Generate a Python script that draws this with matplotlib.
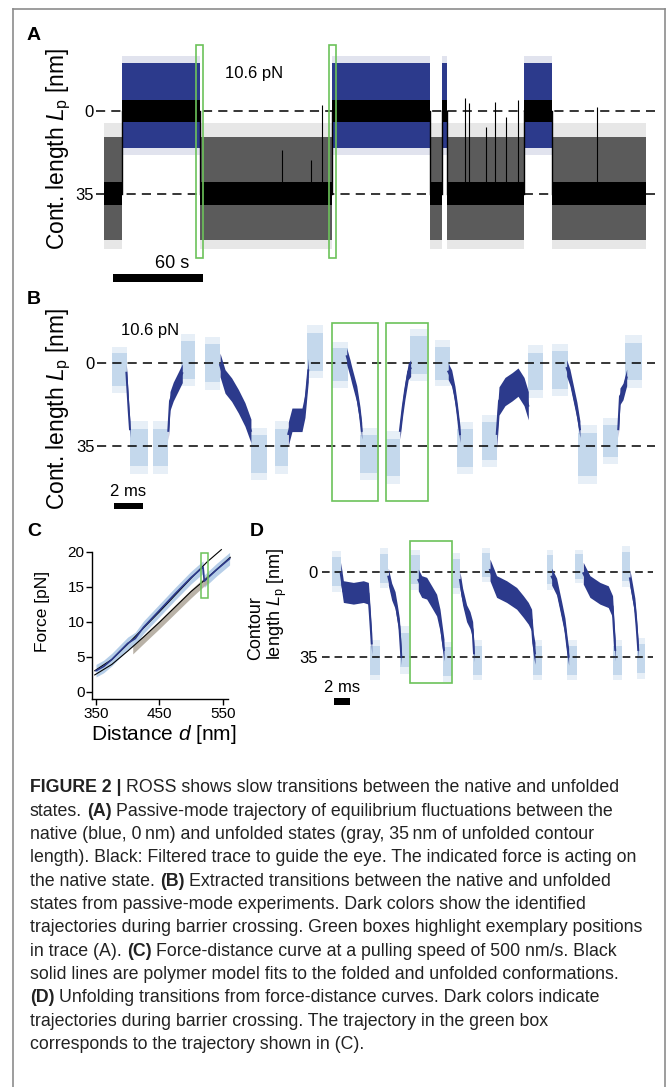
import matplotlib
matplotlib.use('Agg')
import matplotlib.pyplot as plt
from matplotlib.patches import Rectangle
from matplotlib.lines import Line2D
import numpy as np

W, H = 668, 1087

plt.rcParams['font.family'] = ['Liberation Sans', 'DejaVu Sans']
plt.rcParams['mathtext.fontset'] = 'custom'
plt.rcParams['mathtext.rm'] = 'Liberation Sans'
plt.rcParams['mathtext.it'] = 'Liberation Sans:italic'

# ---------------- data ----------------
# (A) passive-mode trace: state intervals [s] and envelopes [nm]
a_start = [0.0, 11.5, 63.7, 152.3, 218.0, 226.3, 229.4, 280.9, 299.5]
a_end = [11.5, 63.7, 152.3, 218.0, 226.3, 229.4, 280.9, 299.5, 362.9]
a_state = ['U', 'N', 'U', 'N', 'U', 'N', 'U', 'N', 'U']
native_cloud = (-19.8, 15.7)
native_sparse = (-23.0, 18.5)
native_filtered = (-4.6, 4.6)
unfolded_cloud = (10.9, 54.1)
unfolded_sparse = (5.0, 58.0)
unfolded_filtered = (30.0, 39.5)
a_spike_t = [118.6, 138.6, 145.8, 241.5, 244.3, 255.7, 261.5, 268.6, 277.2, 330.1]
a_spike_top = [16.4, 20.6, -2.4, -5.2, -3.1, 6.7, -3.8, 2.5, -4.5, -1.7]
a_boxes_t = [(61.4, 66.0), (150.6, 154.9)]

# (B) extracted transitions [ms, nm]; light parts: (t0, t1, centre, half width)
b_pre = [(0.0, 1.04, 2.8, 7), (2.90, 3.95, 35.7, 8), (6.52, 7.57, 0.0, 8),
         (11.41, 12.34, 35.7, 8), (15.38, 16.54, 0.7, 7), (19.17, 20.15, 40.0, 8),
         (22.60, 23.65, 0.0, 7), (25.87, 26.92, 33.0, 8), (30.76, 31.92, 2.8, 8),
         (34.37, 35.42, 33.0, 7)]
b_post = [(1.27, 2.55, 35.7, 8), (4.84, 5.82, -1.4, 8), (9.73, 10.85, 38.5, 8),
          (13.63, 14.79, -4.9, 8), (17.36, 18.52, 38.5, 8), (20.85, 22.02, -3.5, 8),
          (24.14, 25.28, 36.0, 8), (29.13, 30.17, 3.5, 8), (32.62, 33.91, 38.8, 9),
          (35.89, 37.06, -0.7, 8)]
b_dark_t = [[1.02, 1.10, 1.18, 1.27],
            [3.95, 4.07, 4.30, 4.65, 4.93],
            [7.57, 7.92, 8.38, 8.85, 9.31, 9.73],
            [12.34, 12.60, 13.30, 13.51, 13.74],
            [16.43, 16.66, 16.78, 17.13, 17.36, 17.48],
            [20.15, 20.34, 20.50, 20.73, 20.90],
            [23.53, 23.77, 24.00, 24.16, 24.35],
            [26.92, 27.08, 27.50, 27.99, 28.41, 28.83, 29.13],
            [31.81, 32.04, 32.32, 32.53, 32.74],
            [35.42, 35.54, 35.75, 36.01]]
b_dark_nm = [[4, 12, 20, 28],
             [28.7, 16, 12, 7.7, 4.2],
             [0.7, 7.7, 11.2, 16.1, 21.7, 28.7],
             [30, 24, 24, 18, 3],
             [-3, 2, 5, 13, 22, 28.7],
             [28.7, 18.9, 11.9, 3.5, 2.1],
             [3.5, 6.3, 13.3, 20.3, 30.1],
             [30, 16, 12, 10, 8, 12, 18],
             [2, 6, 14, 20, 28],
             [28, 14, 12, 6]]
b_dark_half = [3.5, 4, 5, 5, 3.5, 3.5, 3.5, 6, 3.5, 3.5]
b_boxes_t = [(15.39, 18.62), (19.15, 22.10)]

# (C) force-distance curve [nm, pN]
c_meas_d = [350, 362, 375, 400, 412, 425, 450, 475, 500, 519, 521, 540, 561]
c_meas_f = [3.0, 3.6, 4.6, 6.9, 7.6, 9.2, 11.6, 14.0, 16.3, 17.8, 15.8, 17.4, 19.0]
c_gray_d = [408, 430, 450, 475, 500, 528]
c_gray_f = [6.1, 8.0, 9.7, 11.9, 14.1, 16.4]
c_fold_d = [348, 375, 400, 425, 450, 475, 500, 525, 548]
c_fold_f = [3.0, 4.6, 6.8, 9.1, 11.4, 13.8, 16.2, 18.5, 20.3]
c_unf_d = [348, 375, 400, 425, 450, 475, 500, 521, 540, 562]
c_unf_f = [2.4, 3.9, 5.8, 7.8, 9.9, 12.1, 14.3, 15.9, 17.4, 19.2]

# (D) unfolding transitions from force-distance curves [ms, nm]
d_pre = [(0.0, 1.15, -0.3, 6), (6.17, 7.23, -1.7, 6), (10.09, 11.28, -1.0, 6),
         (15.53, 16.38, 0.4, 6), (19.15, 20.21, -3.0, 5), (27.45, 28.30, -1.0, 6),
         (31.06, 32.13, -2.4, 5), (37.02, 38.09, -2.4, 6)]
d_post = [(4.89, 6.17, 36.4, 6), (8.72, 9.91, 32.2, 7), (14.17, 15.32, 37.1, 6),
          (18.09, 19.15, 36.4, 6), (25.74, 26.81, 36.4, 6), (30.0, 31.28, 36.4, 6),
          (35.96, 37.02, 36.4, 6), (38.94, 40.0, 35.7, 6)]
d_dark_t = [[1.15, 1.49, 2.77, 4.04, 4.68, 4.89, 5.11],
            [7.23, 7.66, 8.09, 8.38, 8.64, 8.89],
            [11.06, 11.49, 12.13, 12.77, 13.40, 13.83, 14.17, 14.34],
            [16.38, 16.72, 17.23, 17.66, 18.00, 18.17],
            [20.21, 21.06, 22.34, 23.62, 24.47, 25.11, 25.53, 25.74, 25.96],
            [28.09, 28.72, 29.36, 29.79, 30.09, 30.26],
            [32.13, 32.98, 34.26, 35.32, 35.87, 36.04, 36.21],
            [38.09, 38.43, 38.72, 38.94, 39.15]]
d_dark_nm = [[0.4, 8.0, 8.7, 8.0, 8.7, 18.4, 29.5],
             [1.8, 8.0, 11.5, 17.0, 22.5, 35.0],
             [3.2, 5.9, 6.6, 10.1, 13.6, 19.8, 28.1, 32.2],
             [3.2, 10.1, 17.0, 19.8, 23.9, 33.6],
             [-1.0, 5.9, 8.0, 10.8, 14.2, 17.0, 19.8, 29.5, 33.6],
             [1.8, 5.9, 15.6, 22.5, 30.8, 35.0],
             [0.4, 5.9, 8.7, 10.1, 14.2, 23.9, 32.2],
             [2.5, 8.7, 14.2, 22.5, 32.2]]
d_dark_half = [4.5, 3.5, 4.5, 3.5, 4.5, 3.5, 4.5, 3.5]
d_box_t = (10.0, 15.36)

caption_lines = [
    [("FIGURE 2 |", True), ("ROSS shows slow transitions between the native and unfolded", False)],
    [("states.", False), ("(A)", True), ("Passive-mode trajectory of equilibrium fluctuations between the", False)],
    [("native (blue, 0\u2009nm) and unfolded states (gray, 35\u2009nm of unfolded contour", False)],
    [("length). Black: Filtered trace to guide the eye. The indicated force is acting on", False)],
    [("the native state.", False), ("(B)", True), ("Extracted transitions between the native and unfolded", False)],
    [("states from passive-mode experiments. Dark colors show the identified", False)],
    [("trajectories during barrier crossing. Green boxes highlight exemplary positions", False)],
    [("in trace (A).", False), ("(C)", True), ("Force-distance curve at a pulling speed of 500 nm/s. Black", False)],
    [("solid lines are polymer model fits to the folded and unfolded conformations.", False)],
    [("(D)", True), ("Unfolding transitions from force-distance curves. Dark colors indicate", False)],
    [("trajectories during barrier crossing. The trajectory in the green box", False)],
    [("corresponds to the trajectory shown in (C).", False)],
]

# ---------------- styles ----------------
NAVY = '#2c3a8c'
LIGHT = '#bcd3ea'
GRAY = '#5b5b5b'
GREEN = '#6cc25a'

fig = plt.figure(figsize=(W / 100, H / 100), dpi=100)


def px_axes(left, top, right, bottom):
    ax = fig.add_axes([left / W, 1 - bottom / H, (right - left) / W, (bottom - top) / H])
    return ax


def ftext(x, y, s, **kw):
    return fig.text(x / W, 1 - y / H, s, **kw)


def trace_axes(ax, pad):
    for sp in ax.spines.values():
        sp.set_visible(False)
    ax.set_xticks([])
    ax.set_yticks([0, 35])
    ax.set_yticklabels(['0', '35'])
    ax.tick_params(axis='y', length=0, pad=pad, labelsize=12)
    ax.patch.set_alpha(0)


def dashed(ax, x0, x1, dash=(6, 4)):
    for yv in (0, 35):
        ln, = ax.plot([x0, x1], [yv, yv], color='black', lw=1.1, zorder=2.5)
        ln.set_dashes(dash)


def green_box(ax, x0, x1, y0, y1, lw=1.2):
    ax.add_patch(Rectangle((x0, y0), x1 - x0, y1 - y0, fill=False,
                           edgecolor=GREEN, lw=lw, zorder=6, clip_on=False))


def draw_events(ax, pre, post, dark_t, dark_nm, dark_half):
    for t0, t1, c, h in pre + post:
        ax.fill_between([t0, t1], [c - 1.4 * h] * 2, [c + 1.4 * h] * 2,
                        color=LIGHT, alpha=0.35, lw=0, zorder=2)
        ax.fill_between([t0, t1], [c - h] * 2, [c + h] * 2,
                        color=LIGHT, alpha=0.8, lw=0, zorder=2)
    for tt, yy, hd in zip(dark_t, dark_nm, dark_half):
        tt = np.array(tt)
        yy = np.array(yy, dtype=float)
        ax.fill_between(tt, yy - hd, yy + hd, color=NAVY, lw=0, zorder=3)
        ax.plot(tt, yy, color=NAVY, lw=1.4, zorder=3)


# ---------------- panel A ----------------
axA = px_axes(96, 39, 660, 287.5)
axA.set_xlim(-5.69, 372.07)
axA.set_ylim(74.0, -30.0)
trace_axes(axA, 1.5)
dashed(axA, -5.69, 368.6)
prev = None
for t0, t1, s in zip(a_start, a_end, a_state):
    if s == 'N':
        sp, cl, fl, col = native_sparse, native_cloud, native_filtered, NAVY
    else:
        sp, cl, fl, col = unfolded_sparse, unfolded_cloud, unfolded_filtered, GRAY
    axA.fill_between([t0, t1], [sp[0]] * 2, [sp[1]] * 2, color=col, alpha=0.14, lw=0, zorder=3)
    axA.fill_between([t0, t1], [cl[0]] * 2, [cl[1]] * 2, color=col, lw=0, zorder=3)
    axA.fill_between([t0, t1], [fl[0]] * 2, [fl[1]] * 2, color='black', lw=0, zorder=4)
    mid = (fl[0] + fl[1]) / 2
    if prev is not None:
        axA.plot([t0, t0], [prev, mid], color='black', lw=1.0, zorder=4)
    prev = mid
axA.vlines(a_spike_t, [34.6] * len(a_spike_t), a_spike_top, color='black', lw=0.8, zorder=4)
for t0, t1 in a_boxes_t:
    green_box(axA, t0, t1, -27.5, 61.5)
axA.text(100, -15.6, '10.6 pN', ha='center', va='center', fontsize=12)
axA.add_patch(Rectangle((5.7, 68.4), 60, 3.2, color='black', lw=0, clip_on=False))
axA.text(45.2, 63.9, '60 s', ha='center', va='center', fontsize=13)

# ---------------- panel B ----------------
axB = px_axes(97, 311.5, 660, 514)
axB.set_xlim(-1.035, 38.34)
axB.set_ylim(64, -22)
trace_axes(axB, 1.5)
dashed(axB, -1.035, 37.99)
draw_events(axB, b_pre, b_post, b_dark_t, b_dark_nm, b_dark_half)
for t0, t1 in b_boxes_t:
    green_box(axB, t0, t1, -17.3, 58.4)
axB.text(2.67, -13.8, '10.6 pN', ha='center', va='center', fontsize=12)
axB.add_patch(Rectangle((0.175, 59.2), 2.0, 2.8, color='black', lw=0, clip_on=False))
axB.text(1.15, 54.5, '2 ms', ha='center', va='center', fontsize=12)

# ---------------- panel C ----------------
axC = px_axes(92.3, 545, 232, 699)
axC.set_xlim(344.15, 564.8)
axC.set_ylim(-1.04, 20.96)
axC.spines['top'].set_visible(False)
axC.spines['right'].set_visible(False)
axC.spines['left'].set_bounds(-1.04, 20)
axC.spines['bottom'].set_bounds(344.15, 559)
for sp in ('left', 'bottom'):
    axC.spines[sp].set_linewidth(1.0)
axC.set_xticks([350, 450, 550])
axC.set_yticks([0, 5, 10, 15, 20])
axC.tick_params(direction='out', length=4, width=1.0, labelsize=11, pad=1.5)
axC.patch.set_alpha(0)
meas_f = np.array(c_meas_f)
axC.fill_between(c_meas_d, meas_f - 0.9, meas_f + 0.9, color='#a9c6e4', alpha=0.85, lw=0, zorder=2)
gray_f = np.array(c_gray_f)
axC.fill_between(c_gray_d, gray_f - 0.7, gray_f + 0.5, color='#b2aa9e', alpha=0.9, lw=0, zorder=2)
axC.plot(c_fold_d, c_fold_f, color='black', lw=0.8, zorder=3, clip_on=False)
axC.plot(c_unf_d, c_unf_f, color='black', lw=0.8, zorder=3, clip_on=False)
axC.plot(c_meas_d, c_meas_f, color=NAVY, lw=1.2, zorder=4, clip_on=False)
green_box(axC, 515.9, 526.4, 13.34, 19.77, lw=1.1)

# ---------------- panel D ----------------
axD = px_axes(322, 535, 660, 710)
axD.set_xlim(-1.24, 41.93)
axD.set_ylim(57.09, -15.46)
trace_axes(axD, 3)
dashed(axD, -1.24, 41.07, dash=(5, 3.2))
draw_events(axD, d_pre, d_post, d_dark_t, d_dark_nm, d_dark_half)
green_box(axD, d_box_t[0], d_box_t[1], -13.0, 46.0)
axD.add_patch(Rectangle((0.33, 52.0), 2.0, 3.0, color='black', lw=0, clip_on=False))
axD.text(1.28, 47.8, '2 ms', ha='center', va='center', fontsize=12)

# ---------------- labels ----------------
ylab = 'Cont. length $L_\\mathrm{p}$ [nm]'
ftext(58.5, 149, ylab, rotation=90, ha='center', va='center', fontsize=16.4)
ftext(58.5, 409, ylab, rotation=90, ha='center', va='center', fontsize=16.4)
ftext(42.5, 611, 'Force [pN]', rotation=90, ha='center', va='center', fontsize=12.5)
ftext(164, 734, 'Distance $d$ [nm]', ha='center', va='center', fontsize=15)
ftext(268, 660, 'Contour\nlength $L_\\mathrm{p}$ [nm]', rotation=90, ha='center',
      va='bottom', multialignment='left', fontsize=13, linespacing=1.15)
for lab, x, y in [('A', 34, 35), ('B', 34, 299), ('C', 34, 532), ('D', 256.7, 532)]:
    ftext(x, y, lab, ha='center', va='center', fontsize=14, fontweight='bold')

# frame around the figure
for xs, ys in [((12.8, 12.8), (9.3, H + 5)), ((12.8, 665), (9.3, 9.3)), ((665, 665), (9.3, H + 5))]:
    fig.add_artist(Line2D([x / W for x in xs], [1 - y / H for y in ys],
                          color='#8c8c8c', lw=1.2))

# ---------------- caption ----------------
renderer = fig.canvas.get_renderer()


def text_width(s, size, weight='normal'):
    t = fig.text(0, 0, s, fontsize=size, fontweight=weight)
    w = t.get_window_extent(renderer).width
    t.remove()
    return w


probe = 'length). Black: Filtered trace to guide the eye. The indicated force is acting on'
cap_size = 10 * 612 / text_width(probe, 10)
space_w = text_width('x x', cap_size) - text_width('xx', cap_size)
base0, step = 792.5, 23.3
for i, runs in enumerate(caption_lines):
    x = 30.0
    y = base0 + i * step
    for text, bold in runs:
        wt = 'bold' if bold else 'normal'
        t = ftext(x, y, text, fontsize=cap_size, fontweight=wt, va='baseline',
                  color='#222222')
        x += t.get_window_extent(renderer).width + space_w

fig.savefig('out.png', dpi=100)
